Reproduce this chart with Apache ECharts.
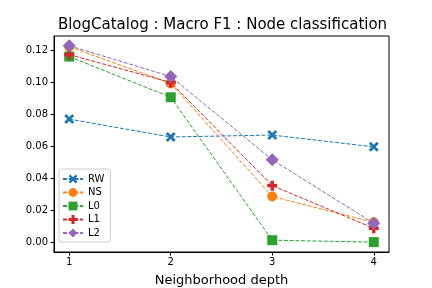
<!DOCTYPE html>
<html><head><meta charset="utf-8">
<script src="https://cdn.jsdelivr.net/npm/echarts@6/dist/echarts.min.js"></script>
<style>html,body{margin:0;padding:0;background:#fff}#c{width:432px;height:288px}</style>
</head><body><div id="c"></div>
<script>
const depths = [1, 2, 3, 4];
const seriesNames = ['RW', 'NS', 'L0', 'L1', 'L2'];
const RW = [0.0771, 0.0659, 0.0671, 0.0597];
const NS = [0.1225, 0.0995, 0.0286, 0.0124];
const L0 = [0.1163, 0.0908, 0.0012, 0.0000];
const L1 = [0.1175, 0.1001, 0.0354, 0.0087];
const L2 = [0.1231, 0.1038, 0.0516, 0.0118];
const yTicks = [0, 0.02, 0.04, 0.06, 0.08, 0.10, 0.12];
const xTicks = [1, 2, 3, 4];

const colors = ['#1f77b4', '#ff7f0e', '#2ca02c', '#d62728', '#9467bd'];
const X_PATH = 'path://M-1,-0.6 L-0.6,-1 L0,-0.4 L0.6,-1 L1,-0.6 L0.4,0 L1,0.6 L0.6,1 L0,0.4 L-0.6,1 L-1,0.6 L-0.4,0 Z';
const P_PATH = 'path://M-0.34,-1 L0.34,-1 L0.34,-0.34 L1,-0.34 L1,0.34 L0.34,0.34 L0.34,1 L-0.34,1 L-0.34,0.34 L-1,0.34 L-1,-0.34 L-0.34,-0.34 Z';
const D_PATH = 'path://M0,-1 L1,0 L0,1 L-1,0 Z';
const symbols = [X_PATH, 'circle', 'rect', P_PATH, D_PATH];
const sizes = [10, 10, 10, 10, 13];
const values = [RW, NS, L0, L1, L2];

const font = 'DejaVu Sans';
const chart = echarts.init(document.getElementById('c'), null, {renderer: 'canvas'});
chart.setOption({
  animation: false,
  title: {text: 'BlogCatalog : Macro F1 : Node classification', left: 217.5, textAlign: 'center', top: 13,
    textStyle: {fontFamily: font, fontSize: 15, fontWeight: 'normal', color: '#000'}},
  grid: {left: 54, right: 43, top: 36, bottom: 36, containLabel: false, outerBoundsMode: 'none',
    show: true, borderColor: '#000', borderWidth: 1, backgroundColor: 'transparent'},
  legend: {
    left: 59, top: 169, orient: 'vertical', itemGap: 3.5, itemWidth: 20, itemHeight: 11,
    backgroundColor: 'rgba(255,255,255,0.8)', borderColor: '#ccc', borderWidth: 1, borderRadius: 3,
    padding: [5, 6, 4, 3],
    textStyle: {fontFamily: font, fontSize: 10, color: '#000'},
    data: seriesNames
  },
  xAxis: {
    type: 'value', min: 0.85, max: 4.15,
    name: 'Neighborhood depth', nameLocation: 'middle', nameGap: 22,
    nameTextStyle: {fontFamily: font, fontSize: 13, color: '#000'},
    axisLine: {show: true, onZero: false, lineStyle: {color: '#000', width: 1}},
    axisTick: {show: true, length: 3.5, lineStyle: {color: '#000'}, customValues: xTicks},
    axisLabel: {fontFamily: font, fontSize: 10, color: '#000', margin: 5, customValues: xTicks, formatter: v => String(Math.round(v))},
    splitLine: {show: false}
  },
  yAxis: {
    type: 'value', min: -0.0062, max: 0.1292,
    axisLine: {show: true, onZero: false, lineStyle: {color: '#000', width: 1}},
    axisTick: {show: true, length: 3.5, lineStyle: {color: '#000'}, customValues: yTicks},
    axisLabel: {fontFamily: font, fontSize: 10, color: '#000', margin: 6, customValues: yTicks, formatter: v => v.toFixed(2)},
    splitLine: {show: false}
  },
  series: seriesNames.map((n, i) => ({
    name: n, type: 'line',
    data: depths.map((d, j) => [d, values[i][j]]),
    symbol: symbols[i], symbolSize: sizes[i],
    itemStyle: {color: colors[i]},
    lineStyle: {color: colors[i], width: 1, type: [4, 1.7]},
    z: 2 + i
  }))
});
</script></body></html>
